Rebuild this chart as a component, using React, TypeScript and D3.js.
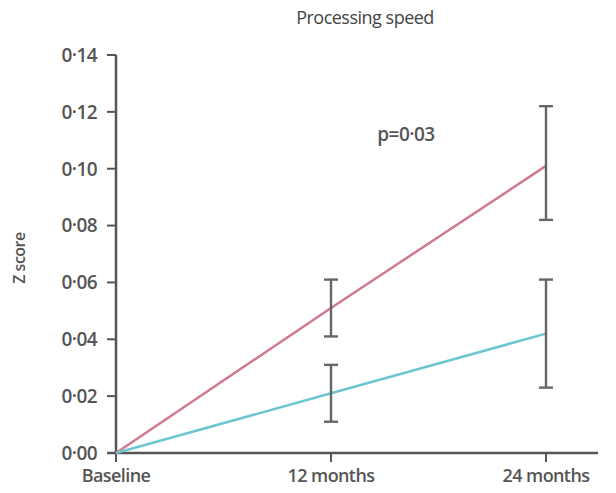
import * as d3 from "d3";

const timepoints = ["Baseline", "12 months", "24 months"];
const pinkMean = [0, 0.051, 0.101];
const pinkLow = [0, 0.041, 0.082];
const pinkHigh = [0, 0.061, 0.122];
const blueMean = [0, 0.021, 0.042];
const blueLow = [0, 0.011, 0.023];
const blueHigh = [0, 0.031, 0.061];
const yTicks = [0, 0.02, 0.04, 0.06, 0.08, 0.1, 0.12, 0.14];

const width = 616;
const height = 493;
const font = "'Open Sans', 'Liberation Sans', sans-serif";
const axisColor = "#555";
const axisX = 116;

export default function App() {
  const x = d3.scalePoint<string>()
    .domain(timepoints)
    .range([axisX, 546]);

  const y = d3.scaleLinear()
    .domain([0, 0.14])
    .range([453, 55]);

  const line = d3.line<number>()
    .x((_, i) => x(timepoints[i])!)
    .y(d => y(d));

  const fmt = (v: number) => d3.format(".2f")(v).replace(".", "·");

  const bars = (low: number[], high: number[], key: string) =>
    timepoints.slice(1).map((t, j) => {
      const i = j + 1;
      const cx = x(t)!;
      return (
        <g key={key + i} stroke="#666" strokeWidth={2.4}>
          <line x1={cx} x2={cx} y1={y(low[i])} y2={y(high[i])} />
          <line x1={cx - 7} x2={cx + 7} y1={y(low[i])} y2={y(low[i])} />
          <line x1={cx - 7} x2={cx + 7} y1={y(high[i])} y2={y(high[i])} />
        </g>
      );
    });

  return (
    <svg width={width} height={height} style={{ position: "absolute", left: 0, top: 0, background: "#fff" }}>
      <text x={365} y={24} textAnchor="middle" fontFamily={font} fontSize={18} fontWeight={500} fill="#444" letterSpacing={-0.5}>
        Processing speed
      </text>

      {/* y axis */}
      <line x1={axisX} x2={axisX} y1={y(0.14)} y2={y(0)} stroke={axisColor} strokeWidth={2.5} />
      {yTicks.map(t => (
        <g key={t}>
          <line x1={axisX - 9} x2={axisX} y1={y(t)} y2={y(t)} stroke={axisColor} strokeWidth={2} />
          <text x={97} y={y(t)} dy="0.36em" textAnchor="end" fontFamily={font} fontSize={19} fontWeight={600} fill="#555" letterSpacing={-0.6}>
            {fmt(t)}
          </text>
        </g>
      ))}
      <text transform="translate(25,258) rotate(-90)" textAnchor="middle" fontFamily={font} fontSize={16} fontWeight={600} fill="#555" letterSpacing={-0.5}>
        Z score
      </text>

      {/* x axis */}
      <line x1={axisX - 9} x2={598} y1={y(0)} y2={y(0)} stroke={axisColor} strokeWidth={2.5} />
      {timepoints.map(t => (
        <g key={t}>
          <line x1={x(t)} x2={x(t)} y1={y(0)} y2={y(0) + 9} stroke={axisColor} strokeWidth={2} />
          <text x={x(t)} y={y(0) + 29} textAnchor="middle" fontFamily={font} fontSize={18} fontWeight={600} fill="#555" letterSpacing={-0.6}>
            {t}
          </text>
        </g>
      ))}

      <path d={line(pinkMean)!} fill="none" stroke="#d07a8c" strokeWidth={2.5} />
      <path d={line(blueMean)!} fill="none" stroke="#6cc6d2" strokeWidth={2.5} />
      {bars(pinkLow, pinkHigh, "p")}
      {bars(blueLow, blueHigh, "b")}

      <text x={406} y={141} textAnchor="middle" fontFamily={font} fontSize={19} fontWeight={600} fill="#555" letterSpacing={-0.5}>
        p=0·03
      </text>
    </svg>
  );
}
